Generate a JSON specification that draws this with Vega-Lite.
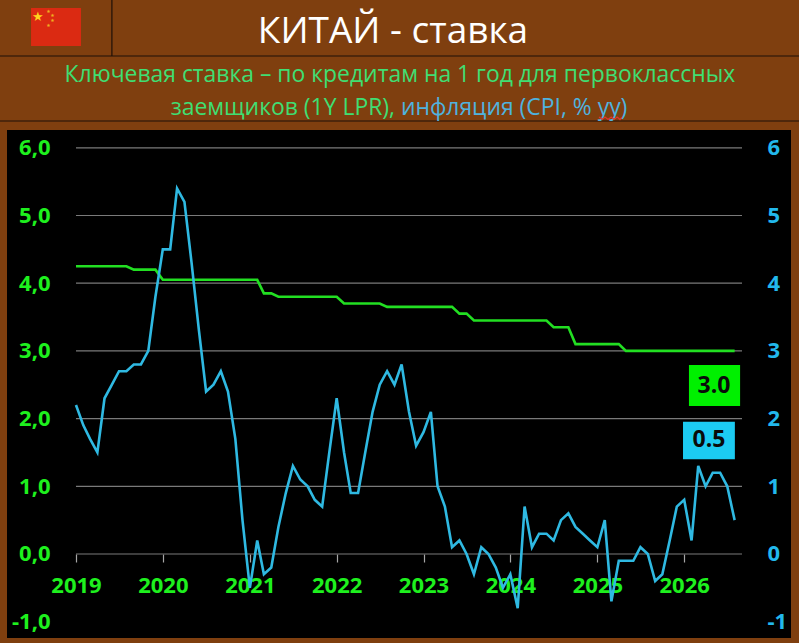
{"$schema":"https://vega.github.io/schema/vega-lite/v6.json","width":784,"height":508,"autosize":"none","padding":{"left":7,"top":130,"right":8,"bottom":5},"background":"#7F3F0F","view":{"fill":"#000000","stroke":null},
"title":{"text":"КИТАЙ - ставка","font":"Open Sans","fontSize":37,"fontWeight":"normal","color":"#FFFFFF","anchor":"middle","dx":-6,"offset":-52},
"datasets":{"series":[
{"date":"2019-01-01","rate":4.25,"cpi":2.2},{"date":"2019-02-01","rate":4.25,"cpi":1.9},{"date":"2019-03-01","rate":4.25,"cpi":1.7},{"date":"2019-04-01","rate":4.25,"cpi":1.5},{"date":"2019-05-01","rate":4.25,"cpi":2.3},{"date":"2019-06-01","rate":4.25,"cpi":2.5},{"date":"2019-07-01","rate":4.25,"cpi":2.7},{"date":"2019-08-01","rate":4.25,"cpi":2.7},{"date":"2019-09-01","rate":4.2,"cpi":2.8},{"date":"2019-10-01","rate":4.2,"cpi":2.8},{"date":"2019-11-01","rate":4.2,"cpi":3.0},{"date":"2019-12-01","rate":4.2,"cpi":3.8},
{"date":"2020-01-01","rate":4.05,"cpi":4.5},{"date":"2020-02-01","rate":4.05,"cpi":4.5},{"date":"2020-03-01","rate":4.05,"cpi":5.4},{"date":"2020-04-01","rate":4.05,"cpi":5.2},{"date":"2020-05-01","rate":4.05,"cpi":4.3},{"date":"2020-06-01","rate":4.05,"cpi":3.3},{"date":"2020-07-01","rate":4.05,"cpi":2.4},{"date":"2020-08-01","rate":4.05,"cpi":2.5},{"date":"2020-09-01","rate":4.05,"cpi":2.7},{"date":"2020-10-01","rate":4.05,"cpi":2.4},{"date":"2020-11-01","rate":4.05,"cpi":1.7},{"date":"2020-12-01","rate":4.05,"cpi":0.5},
{"date":"2021-01-01","rate":4.05,"cpi":-0.5},{"date":"2021-02-01","rate":4.05,"cpi":0.2},{"date":"2021-03-01","rate":3.85,"cpi":-0.3},{"date":"2021-04-01","rate":3.85,"cpi":-0.2},{"date":"2021-05-01","rate":3.8,"cpi":0.4},{"date":"2021-06-01","rate":3.8,"cpi":0.9},{"date":"2021-07-01","rate":3.8,"cpi":1.3},{"date":"2021-08-01","rate":3.8,"cpi":1.1},{"date":"2021-09-01","rate":3.8,"cpi":1.0},{"date":"2021-10-01","rate":3.8,"cpi":0.8},{"date":"2021-11-01","rate":3.8,"cpi":0.7},{"date":"2021-12-01","rate":3.8,"cpi":1.5},
{"date":"2022-01-01","rate":3.8,"cpi":2.3},{"date":"2022-02-01","rate":3.7,"cpi":1.5},{"date":"2022-03-01","rate":3.7,"cpi":0.9},{"date":"2022-04-01","rate":3.7,"cpi":0.9},{"date":"2022-05-01","rate":3.7,"cpi":1.5},{"date":"2022-06-01","rate":3.7,"cpi":2.1},{"date":"2022-07-01","rate":3.7,"cpi":2.5},{"date":"2022-08-01","rate":3.65,"cpi":2.7},{"date":"2022-09-01","rate":3.65,"cpi":2.5},{"date":"2022-10-01","rate":3.65,"cpi":2.8},{"date":"2022-11-01","rate":3.65,"cpi":2.1},{"date":"2022-12-01","rate":3.65,"cpi":1.6},
{"date":"2023-01-01","rate":3.65,"cpi":1.8},{"date":"2023-02-01","rate":3.65,"cpi":2.1},{"date":"2023-03-01","rate":3.65,"cpi":1.0},{"date":"2023-04-01","rate":3.65,"cpi":0.7},{"date":"2023-05-01","rate":3.65,"cpi":0.1},{"date":"2023-06-01","rate":3.55,"cpi":0.2},{"date":"2023-07-01","rate":3.55,"cpi":0.0},{"date":"2023-08-01","rate":3.45,"cpi":-0.3},{"date":"2023-09-01","rate":3.45,"cpi":0.1},{"date":"2023-10-01","rate":3.45,"cpi":0.0},{"date":"2023-11-01","rate":3.45,"cpi":-0.2},{"date":"2023-12-01","rate":3.45,"cpi":-0.5},
{"date":"2024-01-01","rate":3.45,"cpi":-0.3},{"date":"2024-02-01","rate":3.45,"cpi":-0.8},{"date":"2024-03-01","rate":3.45,"cpi":0.7},{"date":"2024-04-01","rate":3.45,"cpi":0.1},{"date":"2024-05-01","rate":3.45,"cpi":0.3},{"date":"2024-06-01","rate":3.45,"cpi":0.3},{"date":"2024-07-01","rate":3.35,"cpi":0.2},{"date":"2024-08-01","rate":3.35,"cpi":0.5},{"date":"2024-09-01","rate":3.35,"cpi":0.6},{"date":"2024-10-01","rate":3.1,"cpi":0.4},{"date":"2024-11-01","rate":3.1,"cpi":0.3},{"date":"2024-12-01","rate":3.1,"cpi":0.2},
{"date":"2025-01-01","rate":3.1,"cpi":0.1},{"date":"2025-02-01","rate":3.1,"cpi":0.5},{"date":"2025-03-01","rate":3.1,"cpi":-0.7},{"date":"2025-04-01","rate":3.1,"cpi":-0.1},{"date":"2025-05-01","rate":3.0,"cpi":-0.1},{"date":"2025-06-01","rate":3.0,"cpi":-0.1},{"date":"2025-07-01","rate":3.0,"cpi":0.1},{"date":"2025-08-01","rate":3.0,"cpi":0.0},{"date":"2025-09-01","rate":3.0,"cpi":-0.4},{"date":"2025-10-01","rate":3.0,"cpi":-0.3},{"date":"2025-11-01","rate":3.0,"cpi":0.2},{"date":"2025-12-01","rate":3.0,"cpi":0.7},
{"date":"2026-01-01","rate":3.0,"cpi":0.8},{"date":"2026-02-01","rate":3.0,"cpi":0.2},{"date":"2026-03-01","rate":3.0,"cpi":1.3},{"date":"2026-04-01","rate":3.0,"cpi":1.0},{"date":"2026-05-01","rate":3.0,"cpi":1.2},{"date":"2026-06-01","rate":3.0,"cpi":1.2},{"date":"2026-07-01","rate":3.0,"cpi":1.0},{"date":"2026-08-01","rate":3.0,"cpi":0.5}],
"grid":[{"date":"2019-01-01","date2":"2026-09-01","value":6},{"date":"2019-01-01","date2":"2026-09-01","value":5},{"date":"2019-01-01","date2":"2026-09-01","value":4},{"date":"2019-01-01","date2":"2026-09-01","value":3},{"date":"2019-01-01","date2":"2026-09-01","value":2},{"date":"2019-01-01","date2":"2026-09-01","value":1},{"date":"2019-01-01","date2":"2026-09-01","value":0}],
"headerLines":[{"date":"2018-02-15","date2":"2027-04-29","value":7.356},{"date":"2018-02-15","date2":"2027-04-29","value":6.396}],
"headerDivider":[{"date":"2019-06-01","value":8.183,"value2":7.356}],
"flag":[{"date":"2018-06-26","date2":"2019-01-22","value":8.065,"value2":7.504}],
"flagBig":[{"date":"2018-07-25","value":7.93,"label":"★"}],
"flagSmall":[{"date":"2018-09-07","value":8.02,"label":"★"},{"date":"2018-09-24","value":7.96,"label":"★"},{"date":"2018-09-24","value":7.89,"label":"★"},{"date":"2018-09-07","value":7.81,"label":"★"}],
"sub1":[{"date":"2022-09-24","value":7.075,"label":"Ключевая ставка – по кредитам на 1 год для первоклассных"}],
"sub2":[{"date":"2022-09-03","value":6.588,"label":"заемщиков (1Y LPR),"}],
"sub3":[{"date":"2022-09-28","value":6.588,"label":"инфляция (CPI, % yy)"}],
"squiggle":[{"date":"2025-01-08","value":6.455},{"date":"2025-01-21","value":6.418},{"date":"2025-02-02","value":6.455},{"date":"2025-02-15","value":6.418},{"date":"2025-02-28","value":6.455},{"date":"2025-03-12","value":6.418},{"date":"2025-03-25","value":6.455},{"date":"2025-04-06","value":6.418},{"date":"2025-04-14","value":6.455}],
"boxRate":[{"date":"2026-01-21","date2":"2026-08-24","value":2.79,"value2":2.186}],
"boxCpi":[{"date":"2025-12-27","date2":"2026-08-02","value":1.954,"value2":1.40}],
"labels":[{"date":"2026-05-06","value":2.48,"label":"3.0"},{"date":"2026-04-15","value":1.68,"label":"0.5"}]
},
"encoding":{
"x":{"field":"date","type":"temporal","title":null,"scale":{"type":"utc","domain":["2018-03-17","2027-03-26"]},"axis":{"values":["2019-01-01","2020-01-01","2021-01-01","2022-01-01","2023-01-01","2024-01-01","2025-01-01","2026-01-01"],"labelExpr":"utcFormat(datum.value,'%Y')","offset":-84,"domain":false,"grid":false,"tickColor":"#A6A6A6","tickSize":8,"tickWidth":1.2,"labelColor":"#1EF01E","labelFont":"Open Sans","labelFontWeight":"bold","labelFontSize":22,"labelPadding":13,"labelOverlap":false,"labelFlush":false}},
"y":{"field":"value","type":"quantitative","title":null,"scale":{"domain":[-1.241,6.263],"nice":false,"zero":false},"axis":null}
},
"layer":[
{"data":{"name":"headerLines"},"mark":{"type":"rule","color":"#1E1008","strokeWidth":1.2},"encoding":{"x2":{"field":"date2"}}},
{"data":{"name":"headerDivider"},"mark":{"type":"rule","color":"#1E1008","strokeWidth":1.2},"encoding":{"y2":{"field":"value2"}}},
{"data":{"name":"flag"},"mark":{"type":"rect","color":"#DB2A12"},"encoding":{"x2":{"field":"date2"},"y2":{"field":"value2"}}},
{"data":{"name":"flagBig"},"mark":{"type":"text","color":"#FFD21E","font":"DejaVu Sans","fontSize":13},"encoding":{"text":{"field":"label"}}},
{"data":{"name":"flagSmall"},"mark":{"type":"text","color":"#F0B020","font":"DejaVu Sans","fontSize":5},"encoding":{"text":{"field":"label"}}},
{"data":{"name":"sub1"},"mark":{"type":"text","color":"#40DE72","font":"Open Sans","fontSize":22.9},"encoding":{"text":{"field":"label"}}},
{"data":{"name":"sub2"},"mark":{"type":"text","color":"#40DE72","font":"Open Sans","fontSize":22.9,"align":"right"},"encoding":{"text":{"field":"label"}}},
{"data":{"name":"sub3"},"mark":{"type":"text","color":"#4FB2DE","font":"Open Sans","fontSize":22.9,"align":"left"},"encoding":{"text":{"field":"label"}}},
{"data":{"name":"squiggle"},"mark":{"type":"line","color":"#E0352B","strokeWidth":1.2},"encoding":{}},
{"data":{"name":"grid"},"mark":{"type":"rule","color":"#7A7A7A","strokeWidth":1.2},"encoding":{"x2":{"field":"date2"}}},
{"data":{"name":"series"},"mark":{"type":"line","color":"#22DF22","strokeWidth":2.6},"encoding":{"y":{"field":"rate","type":"quantitative","title":null,"scale":{"domain":[-1.241,6.263],"nice":false,"zero":false},"axis":{"orient":"left","values":[6,5,4,3,2,1,0,-1],"offset":-43,"domain":false,"ticks":false,"grid":false,"labelPadding":0,"labelExpr":"replace(replace(format(datum.value,'.1f'),'.',','),'−','-')","labelColor":"#1EF01E","labelFont":"Open Sans","labelFontWeight":"bold","labelFontSize":22}}}},
{"data":{"name":"series"},"mark":{"type":"line","color":"#2FB9E2","strokeWidth":2.6},"encoding":{"y":{"field":"cpi","type":"quantitative","title":null,"scale":{"domain":[-1.241,6.263],"nice":false,"zero":false},"axis":{"orient":"right","values":[6,5,4,3,2,1,0,-1],"offset":-24,"domain":false,"ticks":false,"grid":false,"labelPadding":0,"labelExpr":"replace(format(datum.value,'d'),'−','-')","labelColor":"#22B8EC","labelFont":"Open Sans","labelFontWeight":"bold","labelFontSize":22}}}},
{"data":{"name":"boxRate"},"mark":{"type":"rect","color":"#00F000"},"encoding":{"x2":{"field":"date2"},"y2":{"field":"value2"}}},
{"data":{"name":"boxCpi"},"mark":{"type":"rect","color":"#1CCBF2"},"encoding":{"x2":{"field":"date2"},"y2":{"field":"value2"}}},
{"data":{"name":"labels"},"mark":{"type":"text","color":"#0A0A0A","font":"Open Sans","fontWeight":"bold","fontSize":23},"encoding":{"text":{"field":"label"}}}
],
"resolve":{"scale":{"y":"independent"},"axis":{"y":"independent"}}}
